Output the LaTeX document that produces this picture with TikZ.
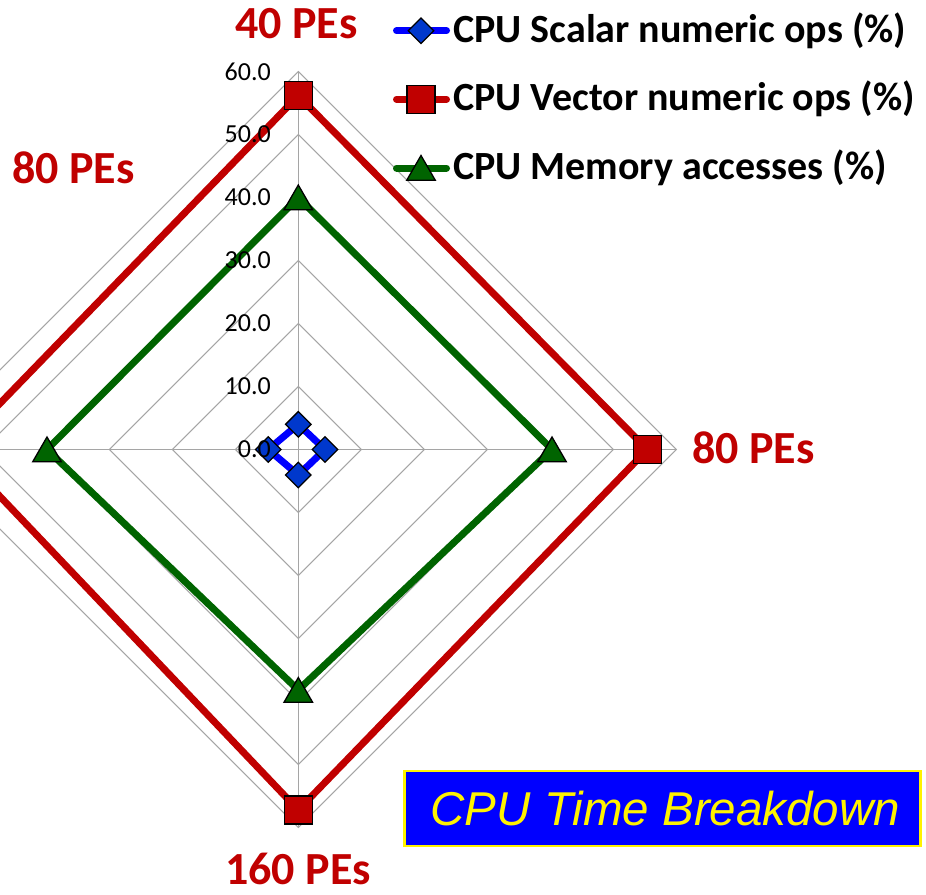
\documentclass[tikz,border=0pt]{standalone}
\usepackage{fontspec}
\setmainfont{Carlito}
\newfontfamily\arialfont{Liberation Sans}
\usetikzlibrary{shapes.geometric}
\definecolor{xred}{RGB}{192,0,0}
\definecolor{xgreen}{RGB}{0,100,0}
\definecolor{xblue}{RGB}{0,0,255}
\definecolor{xdia}{RGB}{0,56,204}
\definecolor{gridgray}{RGB}{165,165,165}
\begin{document}
\begin{tikzpicture}[x=1pt,y=-1pt,
  gridline/.style={draw=gridgray, line width=1pt},
  series/.style={line width=7pt, line join=round},
  legline/.style={line width=7pt, line cap=round},
  dmark/.style={diamond, draw=black, fill=xdia, line width=1.3pt, minimum width=26pt, minimum height=26pt, inner sep=0pt},
  smark/.style={rectangle, draw=black, fill=xred, line width=1.3pt, minimum size=28pt, inner sep=0pt},
  tmark/.style={regular polygon, regular polygon sides=3, draw=black, fill=xgreen, line width=1.3pt, minimum size=33pt, inner sep=0pt, yshift=-4pt},
  ticklab/.style={anchor=east, inner sep=0pt, font=\fontsize{26}{28}\selectfont},
  catlab/.style={anchor=base west, inner sep=0pt, text=xred, font=\bfseries\fontsize{46}{50}\selectfont},
  legtext/.style={anchor=base west, inner sep=0pt, font=\bfseries\fontsize{40}{44}\selectfont}
]
\useasboundingbox (0,0) rectangle (926,894);
\begin{scope}
\clip (0,0) rectangle (926,894);
% grid rings
\foreach \k in {1,...,6}{
  \pgfmathsetmacro{\r}{63*\k}
  \draw[gridline] (298.3,449.5-\r) -- (298.3+\r,449.5) -- (298.3,449.5+\r) -- (298.3-\r,449.5) -- cycle;
}
\coordinate (gt) at (298.3,71.5);
\coordinate (gb) at (298.3,827.5);
\coordinate (gl) at (-79.7,449.5);
\coordinate (gr) at (676.3,449.5);
\draw[gridline] (gt) -- (gb);
\draw[gridline] (gl) -- (gr);
% data points
\coordinate (B1) at (298.3,424.3);
\coordinate (B2) at (325,449.5);
\coordinate (B3) at (298.3,475);
\coordinate (B4) at (268.3,449.5);
\coordinate (R1) at (298.3,95.7);
\coordinate (R2) at (647.3,449.5);
\coordinate (R3) at (298.3,810);
\coordinate (R4) at (-44.7,449.5);
\coordinate (G1) at (298.3,197.5);
\coordinate (G2) at (552,449.5);
\coordinate (G3) at (298.3,690);
\coordinate (G4) at (47,449.5);
% series
\draw[series, xblue] (B1) -- (B2) -- (B3) -- (B4) -- cycle;
\foreach \i in {1,...,4} \node[dmark] (bm\i) at (B\i) {};
\draw[series, xred] (R1) -- (R2) -- (R3) -- (R4) -- cycle;
\foreach \i in {1,...,4} \node[smark] (rm\i) at (R\i) {};
\draw[series, xgreen] (G1) -- (G2) -- (G3) -- (G4) -- cycle;
\foreach \i in {1,...,4} \node[tmark] (gm\i) at (G\i) {};
\end{scope}
% tick labels
\foreach \k in {0,...,6}{
  \pgfmathtruncatemacro{\v}{10*\k}
  \node[ticklab] (tick\k) at (271,449.5-63*\k) {\v.0};
}
% category labels
\node[catlab] (cat1) at (235,38) {40 PEs};
\node[catlab] (cat2) at (692,463) {80 PEs};
\node[catlab] (cat3) at (225,884) {160 PEs};
\node[catlab] (cat4) at (12,183) {80 PEs};
% legend
\coordinate (l1a) at (396.5,30.7); \coordinate (l1b) at (446.5,30.7);
\coordinate (l2a) at (396.5,99.3); \coordinate (l2b) at (446.5,99.3);
\coordinate (l3a) at (396.5,168); \coordinate (l3b) at (446.5,168);
\draw[legline, xblue] (l1a) -- (l1b);
\draw[legline, xred] (l2a) -- (l2b);
\draw[legline, xgreen] (l3a) -- (l3b);
\node[dmark] (lm1) at (421,30.7) {};
\node[smark] (lm2) at (421,99.3) {};
\node[tmark] (lm3) at (421,168) {};
\node[legtext] (lt1) at (453,42.5) {CPU Scalar numeric ops (\%)};
\node[legtext] (lt2) at (453,110.5) {CPU Vector numeric ops (\%)};
\node[legtext] (lt3) at (453,179.5) {CPU Memory accesses (\%)};
% title box
\node[draw=yellow, fill=xblue, line width=2.5pt, minimum width=516pt, minimum height=75pt, inner sep=0pt, text=yellow, font=\arialfont\itshape\fontsize{47.5}{50}\selectfont] (title) at (662.3,808.5) {\hspace*{6pt}CPU Time Breakdown};
\end{tikzpicture}
\end{document}
